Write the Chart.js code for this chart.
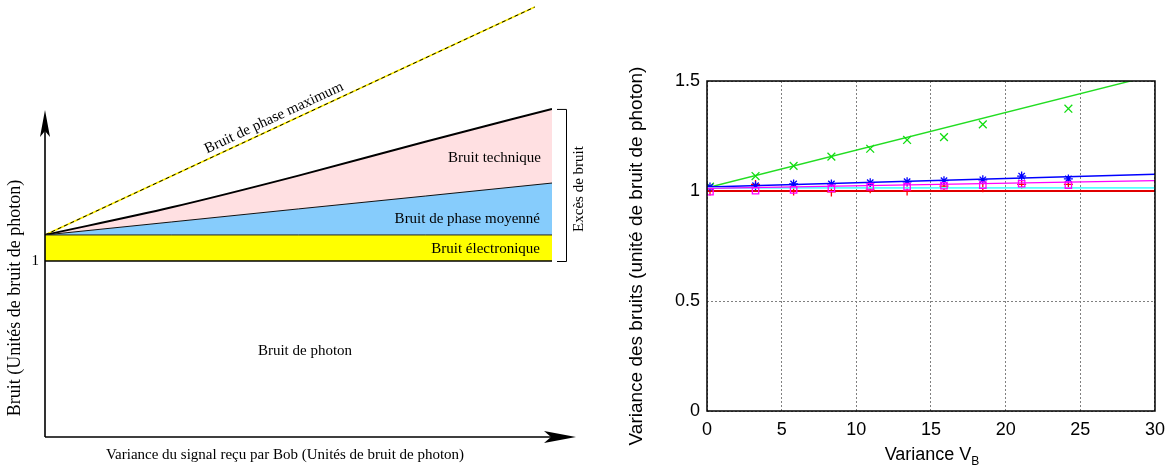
<!DOCTYPE html>
<html>
<head>
<meta charset="utf-8">
<script src="https://cdn.jsdelivr.net/npm/chart.js@4.4.0/dist/chart.umd.min.js"></script>
<style>
  html, body { margin: 0; padding: 0; background: #fff; }
  #left { position: absolute; left: 0; top: 0; }
  #right { position: absolute; left: 600px; top: 0; }
</style>
</head>
<body>
<canvas id="left" width="600" height="468"></canvas>
<canvas id="right" width="573" height="468"></canvas>
<script>
// left panel: schematic noise budget (units of photon noise)
const schemeX = [0, 2.5, 5, 7.5, 10];
const photonLevel = [1, 1, 1, 1, 1];
const electronicTop = [1.148, 1.148, 1.148, 1.148, 1.148];
const phaseAvgTop = [1.148, 1.222, 1.296, 1.369, 1.443];
const technicalTop = [1.148, 1.305, 1.485, 1.678, 1.864];
const phaseMaxX = [0, 9.66];
const phaseMaxY = [1.148, 2.443];

// right panel: measured noise variances vs V_B
const varianceVB = [0.2, 3.25, 5.8, 8.33, 10.93, 13.4, 15.87, 18.47, 21.07, 24.2];
const redPts = [1.0, 1.03, 1.0, 0.996, 1.01, 1.0, 1.022, 1.015, 1.03, 1.03];
const bluePts = [1.018, 1.024, 1.032, 1.032, 1.038, 1.042, 1.047, 1.051, 1.068, 1.055];
const magentaPts = [0.997, 1.001, 1.005, 1.012, 1.02, 1.02, 1.024, 1.027, 1.033, 1.027];
const greenX = [0.2, 3.25, 5.8, 8.33, 10.93, 13.4, 15.87, 18.47, 24.2];
const greenPts = [1.02, 1.068, 1.114, 1.156, 1.192, 1.232, 1.245, 1.303, 1.374];
const fitX = [0, 30];
const redFit = [1.0, 1.0];
const cyanFit = [1.014, 1.014];
const magentaFit = [1.012, 1.047];
const blueFit = [1.018, 1.076];
const greenFit = [1.015, 1.528];
const xTicks = [0, 5, 10, 15, 20, 25, 30];
const yTicks = [0, 0.5, 1, 1.5];

const pts = (xs, ys) => xs.map((x, i) => ({ x: x, y: ys[i] }));
const serif = '"Liberation Serif", "DejaVu Serif", serif';
const sans = '"Liberation Sans", Arial, sans-serif';

const schemeDecor = {
  id: 'schemeDecor',
  afterDraw(chart) {
    const ctx = chart.ctx;
    const xs = chart.scales.x, ys = chart.scales.y;
    const x0 = xs.getPixelForValue(0), y0 = ys.getPixelForValue(0);
    const xEnd = xs.getPixelForValue(10);
    ctx.save();
    ctx.strokeStyle = '#000';
    ctx.fillStyle = '#000';
    ctx.lineWidth = 1.6;
    // axes with arrows
    const yTip = 110, xTip = 576;
    ctx.beginPath();
    ctx.moveTo(x0, y0); ctx.lineTo(x0, yTip + 15);
    ctx.moveTo(x0, y0); ctx.lineTo(xTip - 15, y0);
    ctx.stroke();
    ctx.beginPath();
    ctx.moveTo(x0, yTip); ctx.lineTo(x0 - 5, yTip + 27); ctx.lineTo(x0, yTip + 21); ctx.lineTo(x0 + 5, yTip + 27);
    ctx.closePath(); ctx.fill();
    ctx.beginPath();
    ctx.moveTo(xTip, y0); ctx.lineTo(xTip - 32, y0 - 6); ctx.lineTo(xTip - 25, y0); ctx.lineTo(xTip - 32, y0 + 6);
    ctx.closePath(); ctx.fill();

    // bracket for the excess noise
    const bTop = ys.getPixelForValue(technicalTop[technicalTop.length - 1]);
    const bBot = ys.getPixelForValue(1);
    ctx.lineWidth = 1;
    ctx.beginPath();
    ctx.moveTo(xEnd + 5, bTop + 0.5); ctx.lineTo(xEnd + 14.5, bTop + 0.5);
    ctx.lineTo(xEnd + 14.5, bBot + 0.5); ctx.lineTo(xEnd + 5, bBot + 0.5);
    ctx.stroke();

    ctx.font = '15px ' + serif;
    ctx.textBaseline = 'middle';
    ctx.textAlign = 'right';
    ctx.fillText('1', x0 - 6, ys.getPixelForValue(1));
    ctx.fillText('Bruit technique', xEnd - 11, 158);
    ctx.fillText('Bruit de phase moyenné', xEnd - 12, 219);
    ctx.fillText('Bruit électronique', xEnd - 12, 249);
    ctx.textAlign = 'center';
    ctx.fillText('Bruit de photon', 305, 351);
    ctx.fillText('Variance du signal reçu par Bob (Unités de bruit de photon)', 285, 455);

    ctx.save();
    ctx.translate(15, 298);
    ctx.rotate(-Math.PI / 2);
    ctx.font = '18px ' + serif;
    ctx.fillText('Bruit (Unités de bruit de photon)', 0, 0);
    ctx.restore();

    ctx.save();
    ctx.translate(xEnd + 27, 189);
    ctx.rotate(-Math.PI / 2);
    ctx.fillText('Excès de bruit', 0, 0);
    ctx.restore();

    // label along the maximum phase noise line
    const px1 = xs.getPixelForValue(phaseMaxX[0]), py1 = ys.getPixelForValue(phaseMaxY[0]);
    const px2 = xs.getPixelForValue(phaseMaxX[1]), py2 = ys.getPixelForValue(phaseMaxY[1]);
    const ang = Math.atan2(py2 - py1, px2 - px1);
    const cx = 278, cy = py1 + (py2 - py1) * (cx - px1) / (px2 - px1);
    ctx.save();
    ctx.translate(cx, cy);
    ctx.rotate(ang);
    ctx.textBaseline = 'bottom';
    ctx.fillText('Bruit de phase maximum', 0, -2);
    ctx.restore();
    ctx.restore();
  }
};

new Chart(document.getElementById('left'), {
  type: 'line',
  data: {
    datasets: [
      { data: pts(schemeX, photonLevel), borderColor: '#000', borderWidth: 1.5, fill: false },
      { data: pts(schemeX, electronicTop), borderColor: '#222', borderWidth: 1, fill: '-1', backgroundColor: '#ffff00' },
      { data: pts(schemeX, phaseAvgTop), borderColor: '#111', borderWidth: 1, fill: '-1', backgroundColor: '#86ccfc' },
      { data: pts(schemeX, technicalTop), borderColor: '#000', borderWidth: 2, fill: '-1', backgroundColor: '#ffe0e2', cubicInterpolationMode: 'monotone' },
      { data: pts(phaseMaxX, phaseMaxY), borderColor: '#000', borderWidth: 1, borderDash: [4, 3], fill: false },
      { data: pts(phaseMaxX, phaseMaxY), borderColor: '#ffee00', borderWidth: 1.8, fill: false }
    ]
  },
  options: {
    responsive: false,
    animation: false,
    devicePixelRatio: 1,
    layout: { padding: { left: 45, right: 48, top: 5.8, bottom: 31 } },
    elements: { point: { radius: 0 } },
    scales: {
      x: { type: 'linear', min: 0, max: 10, display: false },
      y: { type: 'linear', min: 0, max: 2.45, display: false }
    },
    plugins: { legend: { display: false }, tooltip: { enabled: false } }
  },
  plugins: [schemeDecor]
});

const plotDecor = {
  id: 'plotDecor',
  afterDraw(chart) {
    const ctx = chart.ctx;
    const a = chart.chartArea;
    ctx.save();
    ctx.strokeStyle = '#000';
    ctx.lineWidth = 1.5;
    ctx.strokeRect(a.left, a.top, a.right - a.left, a.bottom - a.top);

    ctx.fillStyle = '#000';
    ctx.font = '18px ' + sans;
    ctx.textBaseline = 'alphabetic';
    const main = 'Variance V';
    const w1 = ctx.measureText(main).width;
    ctx.font = '12px ' + sans;
    const w2 = ctx.measureText('B').width;
    const sx = 332 - (w1 + w2) / 2;
    ctx.font = '18px ' + sans;
    ctx.textAlign = 'left';
    ctx.fillText(main, sx, 460);
    ctx.font = '12px ' + sans;
    ctx.fillText('B', sx + w1, 465);

    ctx.save();
    ctx.translate(37, 256);
    ctx.rotate(-Math.PI / 2);
    ctx.font = '19px ' + sans;
    ctx.textAlign = 'center';
    ctx.textBaseline = 'middle';
    ctx.fillText('Variance des bruits (unité de bruit de photon)', 0, 0);
    ctx.restore();
    ctx.restore();
  }
};

const markers = (label, xs, ys, color, style, r) => ({
  label: label, data: pts(xs, ys), showLine: false,
  pointStyle: style, pointRadius: r, pointBorderColor: color,
  pointBackgroundColor: 'rgba(0,0,0,0)', pointBorderWidth: 1.3
});
const fitLine = (label, ys, color, w) => ({
  label: label, data: pts(fitX, ys), showLine: true,
  borderColor: color, borderWidth: w, pointRadius: 0
});

const rightSets = [
  fitLine('fit rouge', redFit, '#e00000', 2),
  markers('rouge', varianceVB, redPts, '#ff0000', 'cross', 4.5),
  fitLine('fit vert', greenFit, '#22dd22', 1.4),
  markers('vert', greenX, greenPts, '#11dd11', 'crossRot', 5.5),
  fitLine('fit bleu', blueFit, '#0000ff', 1.4),
  markers('bleu', varianceVB, bluePts, '#0000ff', 'star', 4.5),
  fitLine('fit cyan', cyanFit, '#55ffff', 1.6),
  fitLine('fit magenta', magentaFit, '#ff00ff', 1.4),
  markers('magenta', varianceVB, magentaPts, '#ff00ff', 'rect', 4.5)
];
rightSets.forEach((d, i) => { d.order = rightSets.length - i; });

new Chart(document.getElementById('right'), {
  type: 'scatter',
  data: { datasets: rightSets },
  options: {
    responsive: false,
    animation: false,
    devicePixelRatio: 1,
    layout: { padding: { left: 0, right: 17, top: 81, bottom: 0 } },
    scales: {
      x: {
        type: 'linear', min: 0, max: 30,
        afterBuildTicks: (s) => { s.ticks = xTicks.map(v => ({ value: v })); },
        afterFit: (s) => { s.height = 57; },
        ticks: { color: '#000', font: { family: sans, size: 18 }, padding: 8, maxRotation: 0, callback: (v) => String(v) },
        grid: { color: '#808080', lineWidth: 1, drawTicks: false },
        border: { display: false, dash: [2, 2] }
      },
      y: {
        type: 'linear', min: 0, max: 1.5,
        afterBuildTicks: (s) => { s.ticks = yTicks.map(v => ({ value: v })); },
        afterFit: (s) => { s.width = 107; },
        ticks: { color: '#000', font: { family: sans, size: 18 }, padding: 7, callback: (v) => String(v) },
        grid: { color: '#808080', lineWidth: 1, drawTicks: false },
        border: { display: false, dash: [2, 2] }
      }
    },
    plugins: { legend: { display: false }, tooltip: { enabled: false } }
  },
  plugins: [plotDecor]
});
</script>
</body>
</html>
